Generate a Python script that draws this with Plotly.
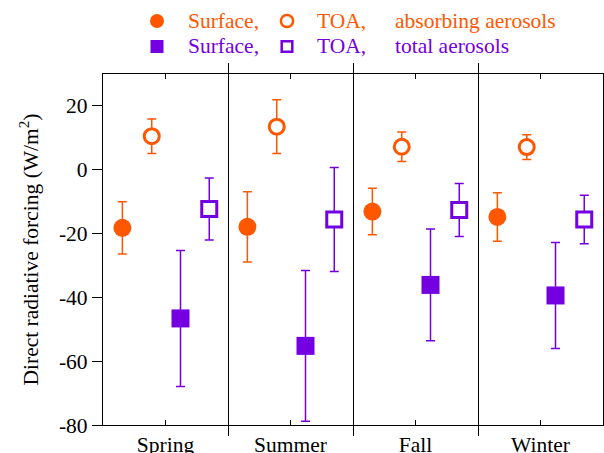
import plotly.graph_objects as go

# Seasons and direct radiative forcing (W/m^2), mean and 1-sigma spread
seasons = ["Spring", "Summer", "Fall", "Winter"]

surf_abs = [-18.2, -17.9, -13.1, -14.8]
surf_abs_err = [8.2, 11.0, 7.3, 7.6]
toa_abs = [10.5, 13.5, 7.2, 7.1]
toa_abs_err = [5.4, 8.4, 4.6, 3.9]

surf_tot = [-46.6, -55.2, -36.1, -39.4]
surf_tot_err = [21.3, 23.6, 17.5, 16.6]
toa_tot = [-12.3, -15.6, -12.6, -15.6]
toa_tot_err = [9.7, 16.3, 8.3, 7.6]

y_ticks = [20, 0, -20, -40, -60, -80]
y_tick_labels = ["20", "0", "-20", "-40", "-60", "-80"]

ORANGE = "#FF5700"
PURPLE = "#7400E2"
FONT = "Liberation Serif"
FS = 21.5

# horizontal position of each series inside a season slot
offsets = [0.155, 0.39, 0.62, 0.85]

series = [
    (surf_abs, surf_abs_err, ORANGE, True, "circle"),
    (toa_abs, toa_abs_err, ORANGE, False, "circle"),
    (surf_tot, surf_tot_err, PURPLE, True, "square"),
    (toa_tot, toa_tot_err, PURPLE, False, "square"),
]

fig = go.Figure()
for (vals, errs, color, filled, symbol), off in zip(series, offsets):
    xs = [i + off for i in range(len(seasons))]
    if filled:
        marker = dict(symbol=symbol, size=18, color=color, line=dict(width=0))
    else:
        marker = dict(symbol=symbol, size=15, color="white",
                      line=dict(width=3, color=color))
    fig.add_trace(go.Scatter(
        x=xs, y=vals, mode="markers", marker=marker,
        error_y=dict(type="data", array=errs, symmetric=True,
                     color=color, thickness=1.5, width=4.5),
        showlegend=False, cliponaxis=False,
    ))

fig.update_layout(
    width=604, height=453,
    margin=dict(l=103, r=1, t=74, b=28, autoexpand=False),
    paper_bgcolor="white", plot_bgcolor="white",
    font=dict(family=FONT, size=FS, color="black"),
    showlegend=False,
)

fig.update_xaxes(
    range=[0, len(seasons)],
    tickvals=[i + 0.5 for i in range(len(seasons))],
    ticktext=seasons,
    ticks="inside", ticklen=5, tickwidth=1, tickcolor="black",
    showgrid=False, zeroline=False, automargin=False,
    showline=True, linecolor="black", linewidth=1.2, mirror="ticks",
    minor=dict(tickvals=list(range(len(seasons) + 1)), ticks="outside",
               ticklen=10, tickwidth=1, tickcolor="black",
               showgrid=True, gridcolor="black", gridwidth=1),
    tickfont=dict(family=FONT, size=FS),
)

fig.update_yaxes(
    range=[-80, 30],
    tickvals=y_ticks, ticktext=y_tick_labels,
    ticks="outside", ticklen=10, tickwidth=1, tickcolor="black",
    showgrid=False, zeroline=False, automargin=False,
    showline=True, linecolor="black", linewidth=1.2, mirror=True,
    tickfont=dict(family=FONT, size=FS),
    title=dict(text="Direct radiative forcing (W/m<sup>2</sup>)",
               font=dict(family=FONT, size=FS), standoff=14),
)


# Legend: symbol / label grid above the plot.
# Plot area spans x 103..603 px and y 74..425 px.
def px_to_paper_x(px):
    return (px - 103) / 500


def px_to_paper_y(py):
    return (425 - py) / 351


legend_rows = [
    (ORANGE, "circle", "absorbing aerosols", 21, 7.0, 6.1),
    (PURPLE, "rect", "total aerosols", 46.5, 6.5, 5.3),
]
for color, shape, label, ypx, r_fill, r_open in legend_rows:
    yy = px_to_paper_y(ypx)
    for cx, filled in [(157, True), (287, False)]:
        xx = px_to_paper_x(cx)
        r = r_fill if filled else r_open
        fig.add_shape(
            type=shape, xref="paper", yref="paper",
            xsizemode="pixel", ysizemode="pixel",
            xanchor=xx, yanchor=yy,
            x0=-r, x1=r, y0=-r, y1=r,
            fillcolor=color if filled else "white",
            line=dict(color=color, width=0 if filled else 2.5),
        )
    for tx, text in [(186.5, "Surface,"), (315.5, "TOA,"), (394, label)]:
        fig.add_annotation(
            x=px_to_paper_x(tx), y=yy, xref="paper", yref="paper",
            text=text, showarrow=False, xanchor="left", yanchor="middle",
            xshift=-1, font=dict(family=FONT, size=FS, color=color),
        )

fig.write_html("out.html")
